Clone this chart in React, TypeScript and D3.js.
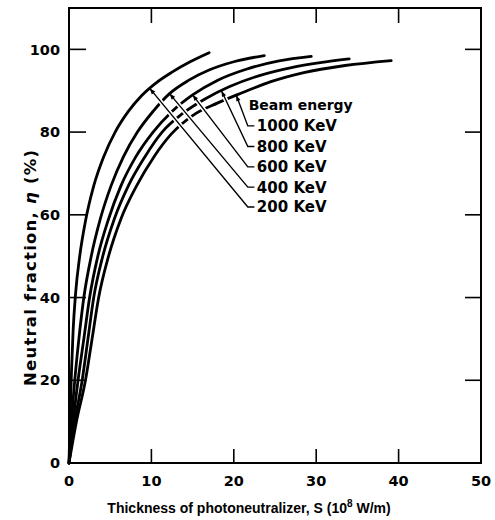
import React from "react";
import * as d3 from "d3";

// curves: [S (10^8 W/m), eta (%)]
const curve200: [number, number][] = [
  [0, 0], [0.15, 12], [0.3, 22], [0.5, 32], [0.8, 41], [1.3, 50], [2.0, 58.5],
  [3.0, 67], [4.2, 74], [5.6, 80], [7.2, 85], [8.8, 88.8], [10.5, 91.8],
  [12.5, 94.5], [14.7, 97], [17, 99.2],
];
const curve400: [number, number][] = [
  [0, 0], [0.3, 10], [0.7, 20], [1.2, 30], [1.8, 40], [2.7, 50], [3.8, 59],
  [5.1, 67], [6.6, 74], [8.3, 80], [10.2, 85], [12.2, 89.3], [14.5, 92.5],
  [17, 95], [20, 97], [23.7, 98.5],
];
const curve600: [number, number][] = [
  [0, 0], [0.5, 10], [1.1, 20], [1.8, 30], [2.5, 40], [3.5, 50], [4.8, 59],
  [6.3, 67], [8.1, 74], [10.2, 80], [12.5, 85], [15, 89], [18, 92.5],
  [21.5, 95.2], [25.5, 97.2], [29.4, 98.3],
];
const curve800: [number, number][] = [
  [0, 0], [0.7, 10], [1.6, 20], [2.3, 30], [3.0, 40], [4.1, 50], [5.5, 59],
  [7.2, 67], [9.2, 74], [11.3, 80], [13.8, 84.5], [16.5, 88], [19.5, 91],
  [23, 93.6], [27, 95.6], [30.5, 96.8], [34, 97.7],
];
const curve1000: [number, number][] = [
  [0, 0], [0.9, 10], [2.0, 20], [2.8, 30], [3.6, 40], [4.8, 50], [6.3, 59],
  [8.2, 67], [10.3, 74], [12.4, 79.5], [15, 84], [18, 87], [21, 89.5],
  [24.5, 92.2], [28.5, 94.4], [33.5, 96.1], [39.1, 97.3],
];

// legend, top to bottom
const energies = ["1000 KeV", "800 KeV", "600 KeV", "400 KeV", "200 KeV"];
const legendCurves = [curve1000, curve800, curve600, curve400, curve200];
const tipS = [20.3, 18.5, 15, 12.2, 9.8];
const labelEta = [81.5, 76.5, 71.6, 66.7, 61.9];
const cornerS = 21.7;
const leaderEndS = 22.5;
const textS = 22.8;
const titleEta = 86.6;
const titleS = 21.8;

const xTicks = [0, 10, 20, 30, 40, 50];
const yTicks = [0, 20, 40, 60, 80, 100];
const innerX = [10, 20, 30, 40];
const innerY = [20, 40, 60, 80, 100];

const W = 495;
const H = 520;

function etaAt(pts: [number, number][], s: number) {
  for (let i = 1; i < pts.length; i++) {
    if (s <= pts[i][0]) {
      const [s0, e0] = pts[i - 1];
      const [s1, e1] = pts[i];
      return e0 + ((s - s0) / (s1 - s0)) * (e1 - e0);
    }
  }
  return pts[pts.length - 1][1];
}

export default function App() {
  const x = d3.scaleLinear().domain([0, 50]).range([69, 481]);
  const y = d3.scaleLinear().domain([0, 110]).range([463, 8]);

  const line = d3
    .line<[number, number]>()
    .x((d) => x(d[0]))
    .y((d) => y(d[1]))
    .curve(d3.curveMonotoneX);

  const curves = [curve200, curve400, curve600, curve800, curve1000];

  const leaders = energies.map((name, i) => {
    const tx = x(tipS[i]);
    const ty = y(etaAt(legendCurves[i], tipS[i]));
    const cx = x(cornerS);
    const cy = y(labelEta[i]);
    const ex = x(leaderEndS);
    const len = Math.hypot(cx - tx, cy - ty);
    const ux = (cx - tx) / len;
    const uy = (cy - ty) / len;
    const nx = -uy;
    const ny = ux;
    const head = [
      [tx, ty],
      [tx + ux * 6 + nx * 2.2, ty + uy * 6 + ny * 2.2],
      [tx + ux * 6 - nx * 2.2, ty + uy * 6 - ny * 2.2],
    ];
    return { name, tx, ty, cx, cy, ex, ux, uy, head };
  });

  const x0 = x(0);
  const x1 = x(50);
  const y0 = y(0);
  const y1 = y(110);

  return (
    <svg
      width={W}
      height={H}
      style={{ position: "absolute", left: 0, top: 0, background: "#fff" }}
    >
      {/* frame */}
      <rect
        x={x0}
        y={y1}
        width={x1 - x0}
        height={y0 - y1}
        fill="none"
        stroke="#000"
        strokeWidth={2}
      />
      {innerX.map((t) => (
        <g key={"tx" + t} stroke="#000" strokeWidth={1.6}>
          <line x1={x(t)} x2={x(t)} y1={y0} y2={y0 - 14} />
          <line x1={x(t)} x2={x(t)} y1={y1} y2={y1 + 15} />
        </g>
      ))}
      {innerY.map((v) => (
        <g key={"ty" + v} stroke="#000" strokeWidth={1.6}>
          <line x1={x0} x2={x0 + 17} y1={y(v)} y2={y(v)} />
          <line x1={x1} x2={x1 - 16} y1={y(v)} y2={y(v)} />
        </g>
      ))}

      {/* tick labels */}
      <g fontFamily="DejaVu Sans" fontWeight="bold" fill="#000">
        {xTicks.map((t) => (
          <text key={"xl" + t} x={x(t)} y={486} fontSize={14.5} textAnchor="middle">
            {t}
          </text>
        ))}
        {yTicks.map((v) => (
          <text
            key={"yl" + v}
            x={60}
            y={y(v)}
            dy="0.36em"
            fontSize={14.5}
            textAnchor="end"
          >
            {v}
          </text>
        ))}
      </g>

      {/* curves */}
      {curves.map((c, i) => (
        <path
          key={"c" + i}
          d={line(c) ?? ""}
          fill="none"
          stroke="#000"
          strokeWidth={2.8}
          strokeLinecap="round"
        />
      ))}

      {/* leader lines */}
      {leaders.map((l) => (
        <line
          key={"h" + l.name}
          x1={l.tx + l.ux * 6}
          y1={l.ty + l.uy * 6}
          x2={l.cx}
          y2={l.cy}
          stroke="#fff"
          strokeWidth={4.5}
        />
      ))}
      {leaders.map((l) => (
        <g key={"l" + l.name}>
          <path
            d={`M${l.tx},${l.ty}L${l.cx},${l.cy}L${l.ex},${l.cy}`}
            fill="none"
            stroke="#000"
            strokeWidth={1.4}
          />
          <polygon points={l.head.map((p) => p.join(",")).join(" ")} fill="#000" />
        </g>
      ))}

      {/* legend text */}
      <g fontFamily="DejaVu Sans" fontWeight="bold" fill="#000">
        <text x={x(titleS)} y={y(titleEta)} dy="0.36em" fontSize={14}>
          Beam energy
        </text>
        {leaders.map((l) => (
          <text key={"t" + l.name} x={x(textS)} y={l.cy} dy="0.36em" fontSize={15}>
            {l.name}
          </text>
        ))}
      </g>

      {/* axis titles */}
      <text
        x={249}
        y={513}
        textAnchor="middle"
        fontFamily="Liberation Sans"
        fontWeight="bold"
        fontSize={14}
      >
        Thickness of photoneutralizer, S (10
        <tspan dy={-6} fontSize={10}>
          8
        </tspan>
        <tspan dy={6}> W/m)</tspan>
      </text>
      <text
        transform="translate(36,268) rotate(-90)"
        textAnchor="middle"
        fontFamily="DejaVu Sans"
        fontWeight="bold"
        fontSize={16.5}
        textLength={236}
        lengthAdjust="spacing"
      >
        Neutral fraction, <tspan fontStyle="italic">η</tspan> (%)
      </text>
    </svg>
  );
}
